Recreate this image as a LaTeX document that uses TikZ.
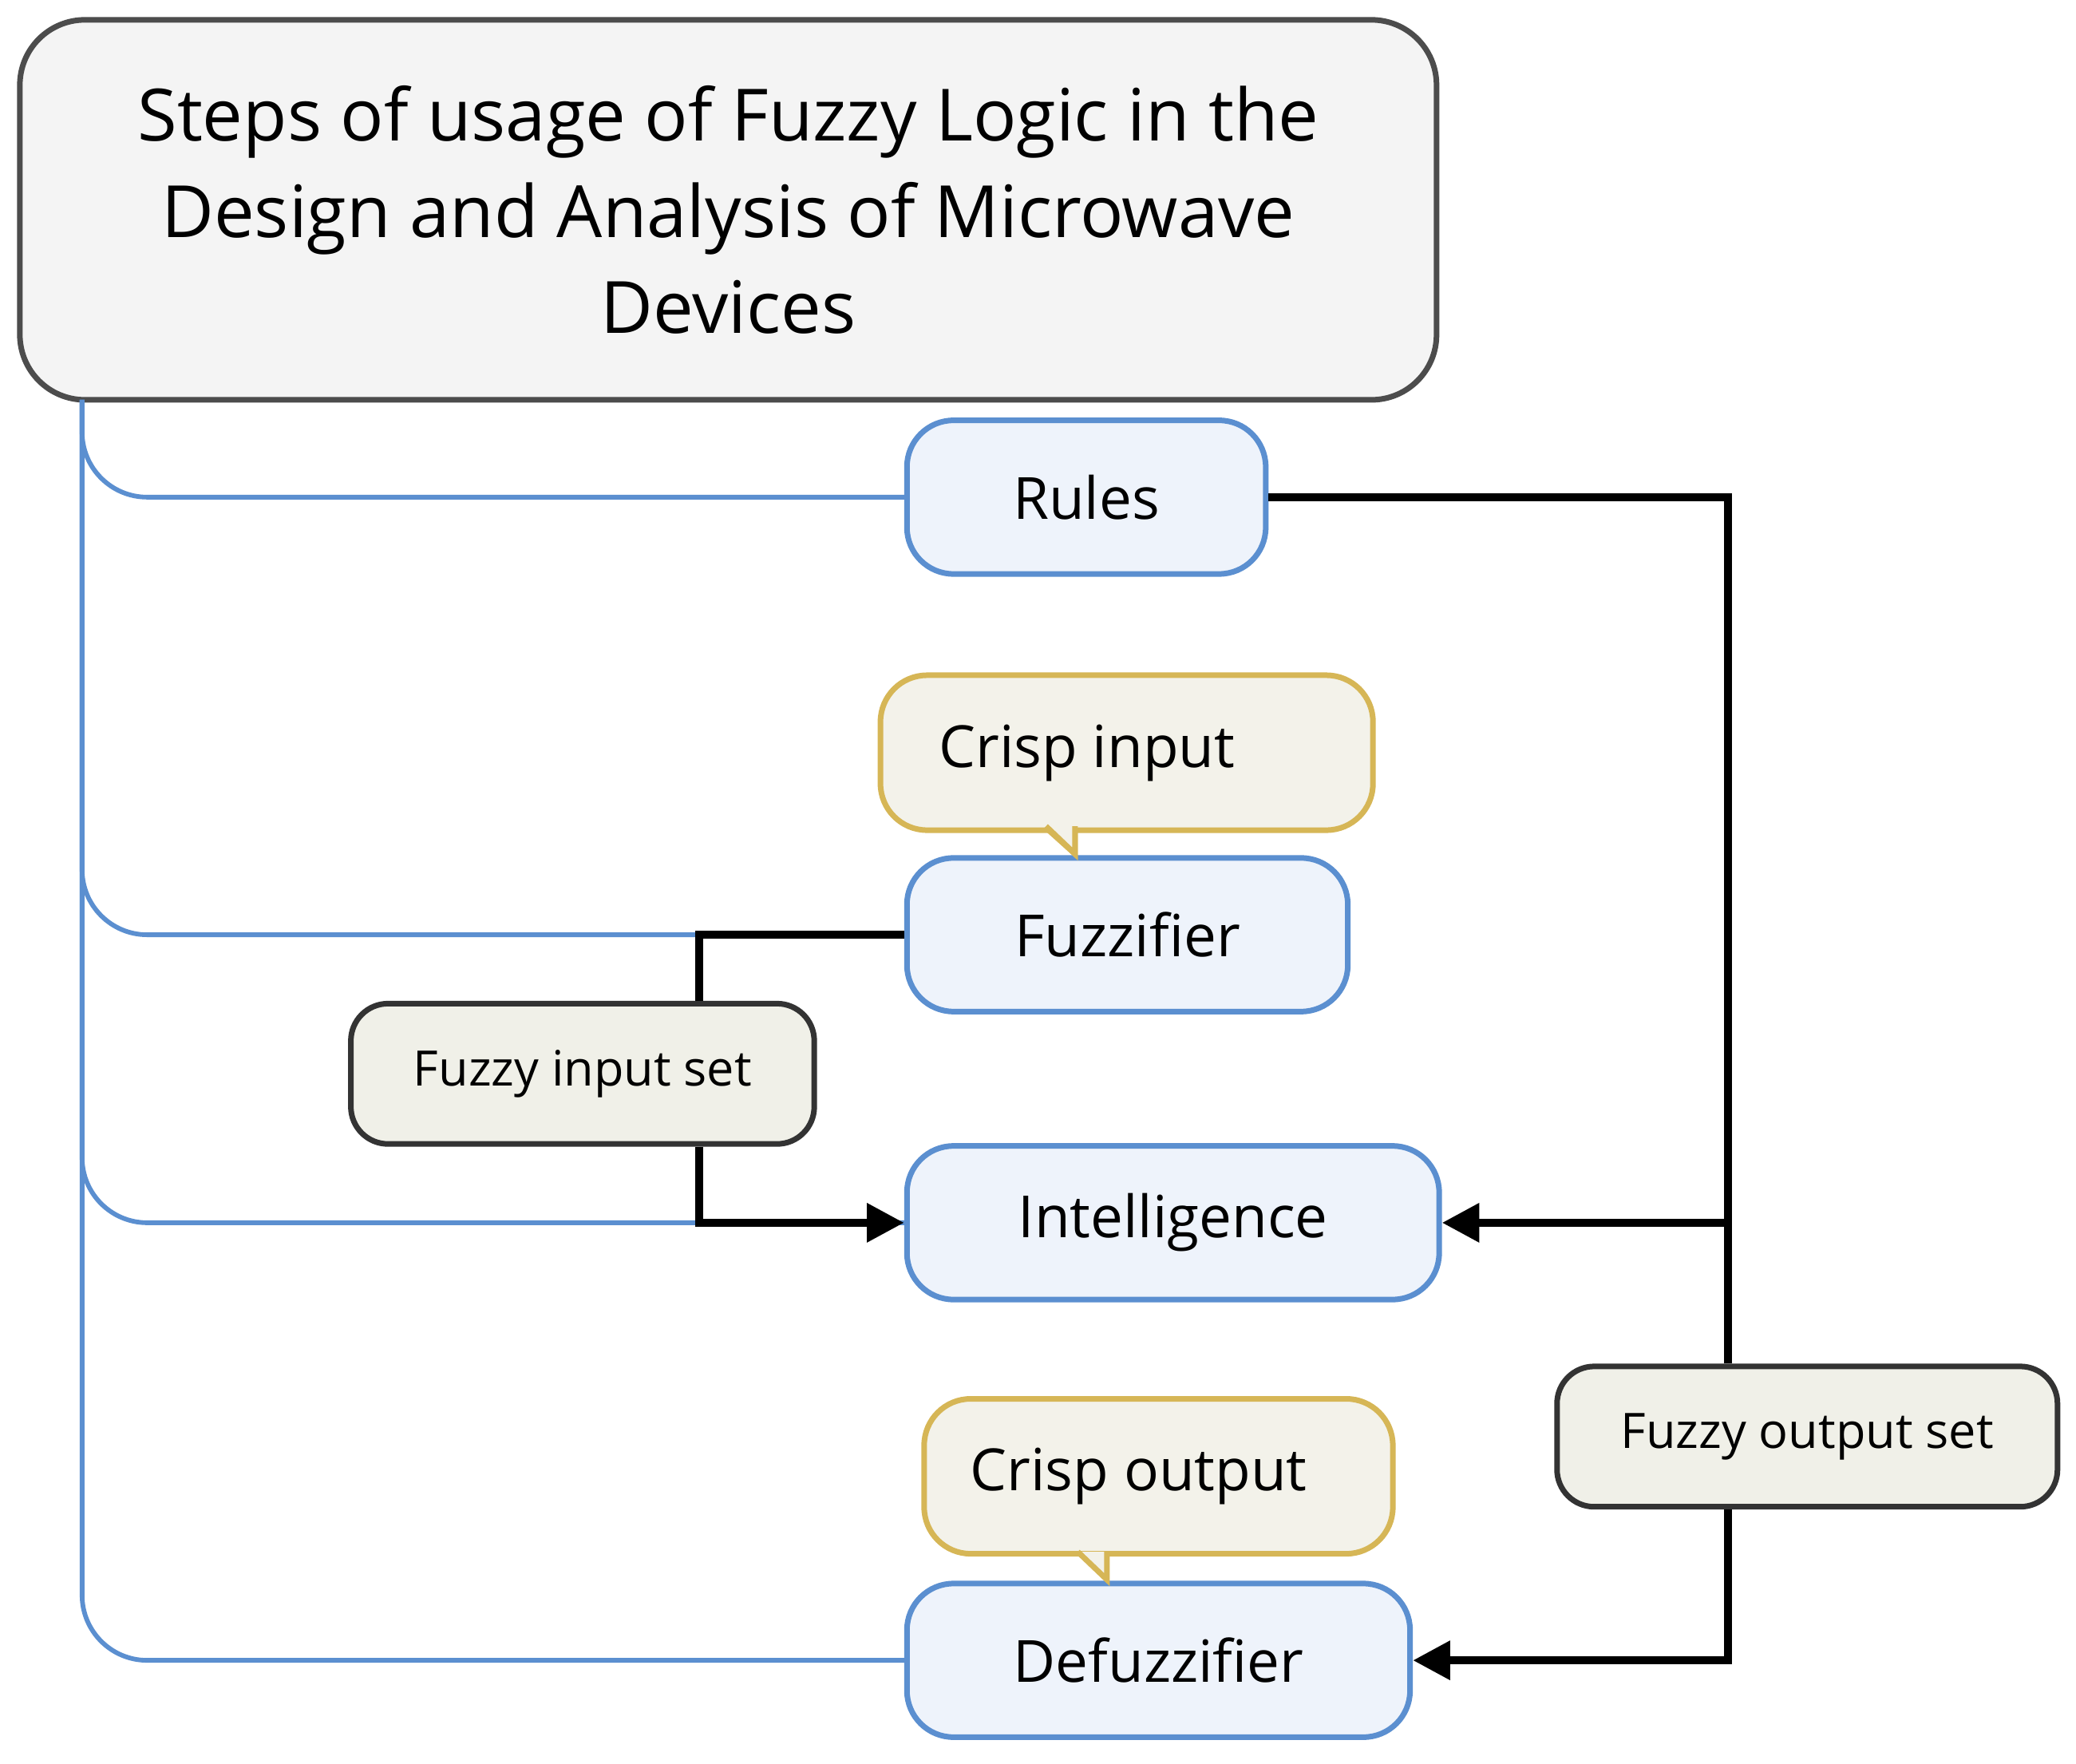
\documentclass[tikz,border=0pt]{standalone}
\usepackage{fontspec}
\setmainfont{Open Sans}
\usetikzlibrary{arrows.meta}
\definecolor{titlefill}{HTML}{F4F4F4}
\definecolor{stepfill}{HTML}{EEF3FB}
\definecolor{stepline}{HTML}{5B8FD0}
\definecolor{notefill}{HTML}{F3F2EA}
\definecolor{noteline}{HTML}{D6B656}
\definecolor{setfill}{HTML}{F0F0E8}
\tikzset{
  stage/.style={draw=stepline,fill=stepfill,rounded corners=10pt,line width=1.2pt,
    minimum height=1.16cm,font=\fontsize{12.5}{15}\selectfont},
  note/.style={draw=noteline,fill=notefill,rounded corners=10pt,line width=1.2pt,
    minimum height=1.17cm,font=\fontsize{12.5}{15}\selectfont},
  tip/.style={draw=noteline,fill=notefill,line width=1.2pt,line join=miter},
  set/.style={draw=black!80,fill=setfill,rounded corners=8pt,line width=1.2pt,
    minimum height=1.06cm,font=\fontsize{10.5}{13}\selectfont},
  trunk/.style={draw=stepline,line width=1pt,rounded corners=14pt},
  flow/.style={draw=black,line width=1.8pt},
  >={Triangle[length=8pt,width=8pt]}
}
\begin{document}
\begin{tikzpicture}
\useasboundingbox (0,0) rectangle (15.68,-13.32);
\node[draw=black!70,fill=titlefill,rounded corners=14pt,line width=1.2pt,
  minimum width=10.7cm,minimum height=2.87cm,align=center,
  font=\fontsize{15.5}{20.7}\selectfont] (title) at (5.5,-1.585)
  {Steps of usage of Fuzzy Logic in the\\Design and Analysis of Microwave\\Devices};
\node[stage,minimum width=2.71cm] (rules) at (8.205,-3.755) {Rules};
\node[stage,minimum width=3.33cm] (fuzz) at (8.515,-7.06) {Fuzzifier};
\node[stage,minimum width=4.02cm] (intel) at (8.86,-9.235) {Intelligence};
\node[stage,minimum width=3.80cm] (defuzz) at (8.75,-12.54) {Defuzzifier};
\node[note,minimum width=3.72cm] (cin) at (8.51,-5.685) {\hspace{-6mm}Crisp input};
\node[note,minimum width=3.54cm] (cout) at (8.75,-11.15) {\hspace{-3mm}Crisp output};
\draw[tip] ([xshift=-2mm,yshift=0.6pt]cin.south -| 8.12,0) -- (8.12,-6.45) -- ([xshift=0mm,yshift=0.6pt]cin.south -| 8.12,0);
\fill[notefill] ([xshift=-1.8mm,yshift=1.5pt]cin.south -| 8.12,0) rectangle ([yshift=-0.1pt]cin.south -| 8.10,0);
\draw[tip] (7.90,-6.24) -- (8.12,-6.45) -- (8.12,-6.24);
\draw[tip] (8.14,-11.72) -- (8.36,-11.93) -- (8.36,-11.72);
\node[set,minimum width=3.50cm] (fis) at (4.40,-8.11) {Fuzzy input set};
\node[set,minimum width=3.78cm] (fos) at (13.65,-10.85) {Fuzzy output set};
\coordinate (t) at (0.62,-3.02);
\draw[trunk] (t) |- (rules.west);
\draw[trunk] (t) |- (fuzz.west);
\draw[trunk] (t) |- (intel.west);
\draw[trunk] (t) |- (defuzz.west);
\coordinate (a) at (13.05,-3.755);
\coordinate (b) at (5.28,-7.06);
\draw[flow] (rules.east) -- (a) -- (fos.north -| a);
\draw[flow,->] (a |- intel.east) -- (intel.east);
\draw[flow,->] (fos.south -| a) |- (defuzz.east);
\draw[flow] (fuzz.west) -- (b) -- (fis.north -| b);
\draw[flow,->] (fis.south -| b) |- (intel.west);
\end{tikzpicture}
\end{document}
